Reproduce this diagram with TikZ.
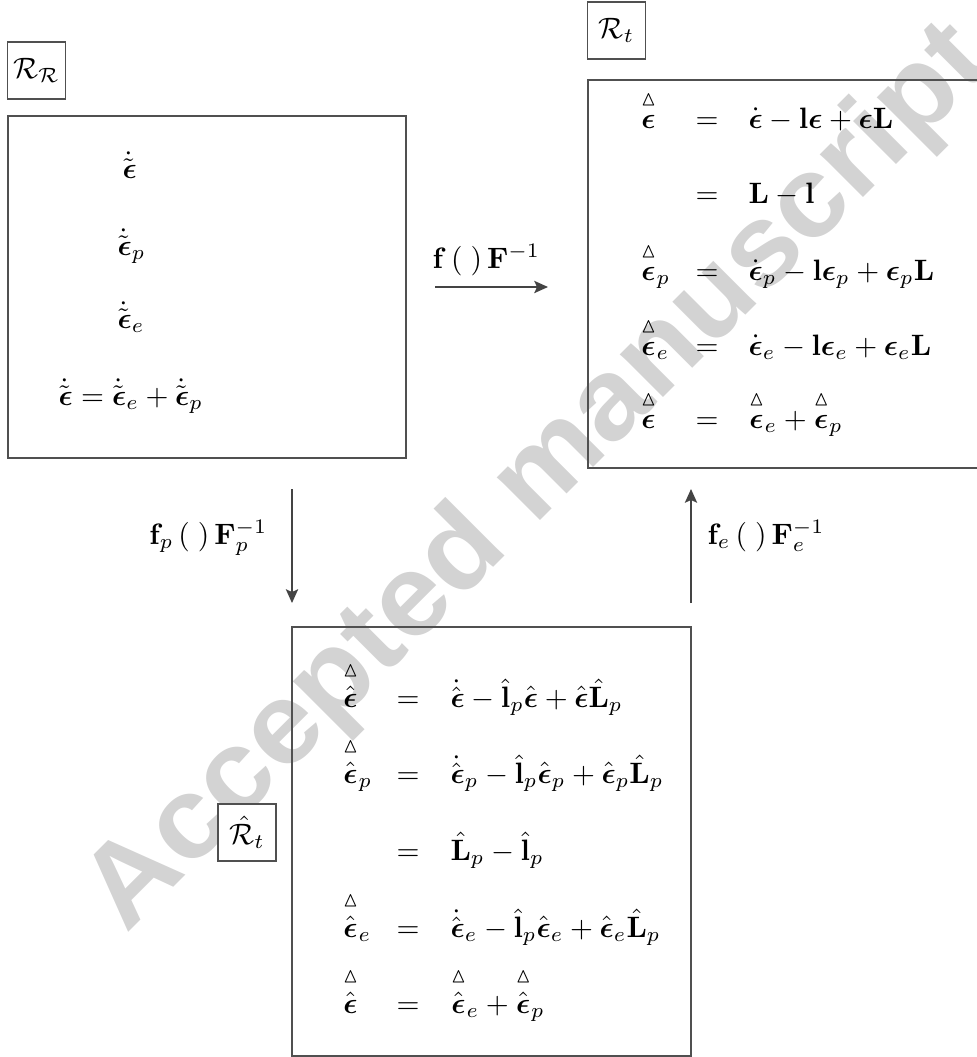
\documentclass[tikz,border=0pt]{standalone}
\usepackage{amsmath,amssymb}
\usepackage{graphicx}
\usepackage[no-math]{fontspec}
\newfontfamily\wmfont{Liberation Sans}
\usetikzlibrary{arrows.meta,fit}
\definecolor{wmgray}{RGB}{211,211,211}
\definecolor{boxgray}{RGB}{80,80,80}
\definecolor{arrgray}{RGB}{68,68,68}
\newcommand{\beps}{\boldsymbol{\epsilon}}
\newcommand{\trig}[1]{\overset{\raisebox{1.2pt}{$\scriptstyle\vartriangle$}}{#1}}
\newcommand{\tdeps}{\dot{\tilde{\boldsymbol{\epsilon}}}}
\newcommand{\heps}{\hat{\boldsymbol{\epsilon}}}
\begin{document}
\begin{tikzpicture}[x=0.339pt,y=-0.339pt,
  bigbox/.style={draw=boxgray,line width=0.6pt,inner sep=0pt},
  lblbox/.style={draw=boxgray,line width=0.6pt,fill=white,inner sep=0pt,minimum width=19.6pt,minimum height=19.3pt},
  eqn/.style={anchor=base west,inner sep=0pt},
  eqs/.style={anchor=base,inner sep=0pt},
  arr/.style={draw=arrgray,line width=0.45pt,-{Stealth[length=4.7pt,width=4.2pt,inset=1pt]}},
  lbl/.style={inner sep=0pt},
  wm/.style={text=wmgray,inner sep=0pt,font=\wmfont\bfseries\fontsize{39}{42}\selectfont}]
\useasboundingbox (0,0) rectangle (977,1057);
\clip (0,0) rectangle (977,1057);
% watermark
\node[wm,rotate=45,anchor=base west] (wmk) at (126,935) {\scalebox{1.05}[1]{Accepted manuscript}};
% boxes
\node[bigbox,fit={(8,116) (406,458)}] (LB) {};
\node[bigbox,fit={(588,80) (1000,468)}] (RB) {};
\node[bigbox,fit={(292,627) (691,1056)}] (BB) {};
% labels
\node[lblbox] (LRR) at (36.5,70.5) {$\mathcal{R}_{\mathcal{R}}$};
\node[lblbox] (LRt) at (616.5,30.5) {$\mathcal{R}_t$};
\node[lblbox] (LRh) at (247,832.5) {$\hat{\mathcal{R}}_t$};
% left box contents
\node[eqn] (l1) at (122,178) {$\tdeps$};
\node[eqn] (l2) at (117,255) {$\tdeps_p$};
\node[eqn] (l3) at (117,328) {$\tdeps_e$};
\node[eqn] (l4) at (58,405) {$\tdeps = \tdeps_e + \tdeps_p$};
% right box contents
\node[eqn] (r1a) at (640,128) {$\trig{\beps}$};
\node[eqs] (r1b) at (707,128) {$=$};
\node[eqn] (r1c) at (748,128) {$\dot{\beps} - \mathbf{l}\beps + \beps\mathbf{L}$};
\node[eqs] (r2b) at (707,203) {$=$};
\node[eqn] (r2c) at (748,203) {$\mathbf{L} - \mathbf{l}$};
\node[eqn] (r3a) at (640,280) {$\trig{\beps}_p$};
\node[eqs] (r3b) at (707,280) {$=$};
\node[eqn] (r3c) at (748,280) {$\dot{\beps}_p - \mathbf{l}\beps_p + \beps_p\mathbf{L}$};
\node[eqn] (r4a) at (640,355) {$\trig{\beps}_e$};
\node[eqs] (r4b) at (707,355) {$=$};
\node[eqn] (r4c) at (748,355) {$\dot{\beps}_e - \mathbf{l}\beps_e + \beps_e\mathbf{L}$};
\node[eqn] (r5a) at (640,428) {$\trig{\beps}$};
\node[eqs] (r5b) at (707,428) {$=$};
\node[eqn] (r5c) at (748,428) {$\trig{\beps}_e + \trig{\beps}_p$};
% bottom box contents
\node[eqn] (b1a) at (342,707) {$\trig{\heps}$};
\node[eqs] (b1b) at (408,707) {$=$};
\node[eqn] (b1c) at (450,707) {$\dot{\heps} - \hat{\mathbf{l}}_p\heps + \heps\hat{\mathbf{L}}_p$};
\node[eqn] (b2a) at (342,783) {$\trig{\heps}_p$};
\node[eqs] (b2b) at (408,783) {$=$};
\node[eqn] (b2c) at (450,783) {$\dot{\heps}_p - \hat{\mathbf{l}}_p\heps_p + \heps_p\hat{\mathbf{L}}_p$};
\node[eqs] (b3b) at (408,860) {$=$};
\node[eqn] (b3c) at (450,860) {$\hat{\mathbf{L}}_p - \hat{\mathbf{l}}_p$};
\node[eqn] (b4a) at (342,937) {$\trig{\heps}_e$};
\node[eqs] (b4b) at (408,937) {$=$};
\node[eqn] (b4c) at (450,937) {$\dot{\heps}_e - \hat{\mathbf{l}}_p\heps_e + \heps_e\hat{\mathbf{L}}_p$};
\node[eqn] (b5a) at (342,1013) {$\trig{\heps}$};
\node[eqs] (b5b) at (408,1013) {$=$};
\node[eqn] (b5c) at (450,1013) {$\trig{\heps}_e + \trig{\heps}_p$};
% arrows
\coordinate (h1) at (435,287);
\coordinate (h2) at (548,287);
\coordinate (d1) at (292,489);
\coordinate (d2) at (292,603);
\coordinate (u1) at (691,603);
\coordinate (u2) at (691,489);
\draw[arr] (h1) -- (h2);
\draw[arr] (d1) -- (d2);
\draw[arr] (u1) -- (u2);
\node[lbl,anchor=base west] (fh) at (432,268) {$\mathbf{f}\,(\;)\,\mathbf{F}^{-1}$};
\node[lbl,anchor=base east] (fp) at (268,544) {$\mathbf{f}_p\,(\;)\,\mathbf{F}_p^{-1}$};
\node[lbl,anchor=base west] (fe) at (707,544) {$\mathbf{f}_e\,(\;)\,\mathbf{F}_e^{-1}$};
\end{tikzpicture}
\end{document}
